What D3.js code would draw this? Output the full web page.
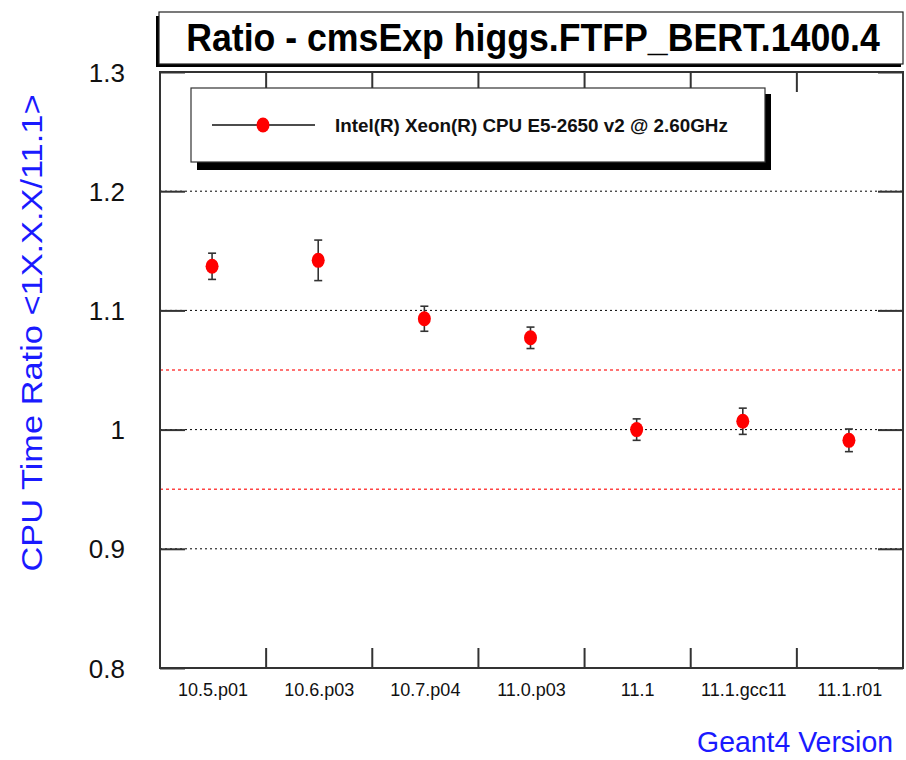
<!DOCTYPE html>
<html><head><meta charset="utf-8">
<script src="https://cdn.jsdelivr.net/npm/d3@7"></script>
<style>body{margin:0;background:#fff}svg{display:block}text{font-family:"Liberation Sans",Arial,sans-serif}</style>
</head><body>
<script>
const categories = ["10.5.p01","10.6.p03","10.7.p04","11.0.p03","11.1","11.1.gcc11","11.1.r01"];
const ratios = [1.137, 1.142, 1.093, 1.077, 1.000, 1.007, 0.991];
const errors = [0.011, 0.017, 0.0105, 0.009, 0.009, 0.011, 0.0095];
const yTicks = [0.8, 0.9, 1.0, 1.1, 1.2, 1.3];
const gridValues = [0.9, 1.0, 1.1, 1.2];
const bandValues = [0.95, 1.05];
const titleText = "Ratio - cmsExp higgs.FTFP_BERT.1400.4";
const legendText = "Intel(R) Xeon(R) CPU E5-2650 v2 @ 2.60GHz";
const yTitle = "CPU Time Ratio <1X.X.X/11.1>";
const xTitle = "Geant4 Version";

const W = 906, H = 760;
const L = 160, R = 903, T = 72, B = 668;
const svg = d3.select("body").append("svg").attr("width", W).attr("height", H);

const x = d3.scaleBand().domain(categories).range([L, R]).padding(0);
const y = d3.scaleLinear().domain([0.8, 1.3]).range([B, T]);

// place text at (px,py) with rotation, scaled horizontally to a target width
function fitText(g, str, px, py, rot, target, anchor, attrs) {
  const t = g.append("text").attr("x", 0).attr("y", 0).attr("text-anchor", anchor).text(str);
  Object.entries(attrs).forEach(([k, v]) => t.attr(k, v));
  const w = t.node().getComputedTextLength();
  const sx = target / w;
  t.attr("transform", `translate(${px},${py}) rotate(${rot}) scale(${sx},1)`);
  return t;
}

// title box with shadow (left & bottom)
svg.append("rect").attr("x", 156).attr("y", 16).attr("width", 745).attr("height", 51).attr("fill", "#000");
svg.append("rect").attr("x", 159).attr("y", 12).attr("width", 744).attr("height", 52).attr("fill", "#fff").attr("stroke", "#222").attr("stroke-width", 1.2);
fitText(svg, titleText, 533, 51, 0, 694, "middle", {"font-size": 39, "font-weight": "bold", "fill": "#000"});

// grid lines
svg.append("g").selectAll("line").data(gridValues).join("line")
  .attr("x1", L).attr("x2", R).attr("y1", d => y(d)).attr("y2", d => y(d))
  .attr("stroke", "#000").attr("stroke-width", 1).attr("stroke-dasharray", "2,3");
svg.append("g").selectAll("line").data(bandValues).join("line")
  .attr("x1", L).attr("x2", R).attr("y1", d => y(d)).attr("y2", d => y(d))
  .attr("stroke", "#f44").attr("stroke-width", 1.6).attr("stroke-dasharray", "3,3");

// frame
svg.append("rect").attr("x", L).attr("y", T).attr("width", R - L).attr("height", B - T)
  .attr("fill", "none").attr("stroke", "#333").attr("stroke-width", 2);

// y ticks (left and right, inward)
const yAxisL = d3.axisLeft(y).tickValues(yTicks).tickSize(-25).tickPadding(35).tickFormat(d3.format("~g"));
const gyl = svg.append("g").attr("transform", `translate(${L},0)`).call(yAxisL);
gyl.select(".domain").remove();
gyl.selectAll(".tick line").attr("stroke", "#333").attr("stroke-width", 2);
gyl.selectAll(".tick text").attr("font-size", 26).attr("fill", "#111").attr("font-family", "Liberation Sans, Arial, sans-serif").attr("dy", "0.35em");
const yAxisR = d3.axisRight(y).tickValues(yTicks).tickSize(-25).tickFormat("");
const gyr = svg.append("g").attr("transform", `translate(${R},0)`).call(yAxisR);
gyr.select(".domain").remove();
gyr.selectAll(".tick line").attr("stroke", "#333").attr("stroke-width", 2);

// x ticks at bin edges (bottom & top, inward)
const edges = categories.slice(1).map(c => x(c));
svg.append("g").selectAll("line").data(edges).join("line")
  .attr("x1", d => d).attr("x2", d => d).attr("y1", B).attr("y2", B - 20)
  .attr("stroke", "#333").attr("stroke-width", 2);
svg.append("g").selectAll("line").data(edges).join("line")
  .attr("x1", d => d).attr("x2", d => d).attr("y1", T).attr("y2", T + 20)
  .attr("stroke", "#333").attr("stroke-width", 2);

// x labels
const xAxis = d3.axisBottom(x).tickSize(0).tickPadding(15);
const gx = svg.append("g").attr("transform", `translate(0,${B})`).call(xAxis);
gx.select(".domain").remove();
gx.selectAll(".tick text").attr("font-size", 18).attr("fill", "#111").attr("font-family", "Liberation Sans, Arial, sans-serif");

// error bars
const pts = svg.append("g");
categories.forEach((c, i) => {
  const cx = x(c) + x.bandwidth() / 2 - 1;
  const g = pts.append("g");
  g.append("line").attr("x1", cx).attr("x2", cx).attr("y1", y(ratios[i] + errors[i])).attr("y2", y(ratios[i] - errors[i]))
    .attr("stroke", "#333").attr("stroke-width", 1.6);
  [ratios[i] + errors[i], ratios[i] - errors[i]].forEach(v => {
    g.append("line").attr("x1", cx - 4).attr("x2", cx + 4).attr("y1", y(v)).attr("y2", y(v))
      .attr("stroke", "#333").attr("stroke-width", 1.6);
  });
  g.append("ellipse").attr("cx", cx).attr("cy", y(ratios[i])).attr("rx", 6.5).attr("ry", 7.5).attr("fill", "#f00");
});

// legend box with shadow (right & bottom)
svg.append("rect").attr("x", 197).attr("y", 94).attr("width", 574).attr("height", 76).attr("fill", "#000");
svg.append("rect").attr("x", 191).attr("y", 88).attr("width", 574).attr("height", 74).attr("fill", "#fff").attr("stroke", "#333").attr("stroke-width", 1.2);
svg.append("line").attr("x1", 212).attr("x2", 315).attr("y1", 125).attr("y2", 125).attr("stroke", "#111").attr("stroke-width", 1.5);
svg.append("ellipse").attr("cx", 263).attr("cy", 125).attr("rx", 6.5).attr("ry", 7.5).attr("fill", "#f00");
fitText(svg, legendText, 335, 132, 0, 393, "start", {"font-size": 19, "font-weight": "bold", "fill": "#111"});

// axis titles
fitText(svg, yTitle, 42, 333, -90, 477, "middle", {"font-size": 29, "fill": "#1a1aff"});
fitText(svg, xTitle, 893, 752, 0, 196, "end", {"font-size": 29, "fill": "#1a1aff"});
</script>
</body></html>
